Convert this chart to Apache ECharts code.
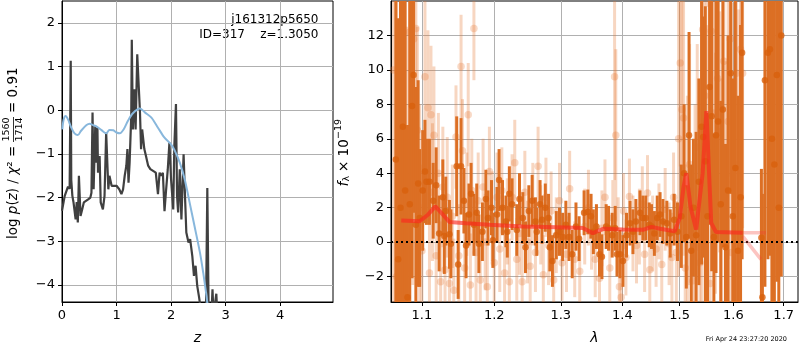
<!DOCTYPE html>
<html>
<head>
<meta charset="utf-8">
<script src="https://cdn.jsdelivr.net/npm/echarts@6/dist/echarts.min.js"></script>
<style>
html,body{margin:0;padding:0;background:#fff}
#main{width:800px;height:350px}
</style>
</head>
<body>
<div id="main"></div>
<script>
// left panel: log p(z) curve and the smooth prior
var zPz = [0.0,0.05,0.11,0.14,0.16,0.17,0.19,0.21,0.25,0.27,0.29,0.31,0.34,0.37,0.40,0.43,0.48,0.52,0.54,0.56,0.58,0.61,0.63,0.65,0.66,0.69,0.71,0.75,0.78,0.81,0.85,0.87,0.91,0.94,1.0,1.05,1.09,1.12,1.15,1.18,1.20,1.22,1.24,1.27,1.28,1.30,1.33,1.35,1.38,1.41,1.43,1.45,1.47,1.51,1.54,1.58,1.62,1.67,1.72,1.76,1.79,1.82,1.85,1.88,1.91,1.94,1.97,2.0,2.04,2.06,2.09,2.11,2.13,2.16,2.19,2.23,2.26,2.28,2.32,2.35,2.39,2.42,2.45,2.48,2.51,2.54,2.55,2.64,2.665,2.69,2.74,2.76,2.78,2.81,2.83,2.85];
var logPz = [-2.3,-1.96,-1.75,-1.8,1.13,-1.6,-1.96,-2.1,-2.5,-2.1,-2.57,-1.5,-2.42,-2.27,-2.11,-2.15,-2.04,-2.0,-1.89,-0.05,-1.81,-0.36,-1.2,-0.4,-1.43,-1.05,-2.11,-2.27,-1.96,-0.51,-1.81,-1.5,-1.73,-1.69,-1.73,-1.81,-1.92,-1.81,-1.5,-1.27,-0.89,-1.66,-1.2,-0.13,1.61,-0.44,0.48,-0.44,1.28,0.48,-0.05,-0.89,-0.44,-0.89,-1.05,-1.27,-1.35,-1.39,-1.43,-1.92,-1.43,-1.5,-1.43,-2.31,-1.81,-1.35,-0.74,-1.58,-2.27,-0.82,0.14,-1.96,-2.34,-1.35,-2.5,-1.01,-2.11,-2.8,-3.03,-2.95,-3.34,-3.79,-3.56,-4.02,-4.25,-4.5,-4.7,-4.7,-1.78,-4.7,-4.7,-4.1,-4.7,-4.7,-4.2,-4.7];
var zPrior = [0.006,0.03,0.067,0.11,0.17,0.23,0.29,0.35,0.45,0.51,0.57,0.63,0.72,0.81,0.87,0.94,1.0,1.06,1.13,1.21,1.30,1.43,1.52,1.64,1.76,1.88,2.0,2.07,2.16,2.25,2.34,2.43,2.53,2.59,2.65,2.67,2.70];
var logPrior = [-0.44,-0.21,-0.13,-0.21,-0.40,-0.53,-0.57,-0.47,-0.34,-0.31,-0.34,-0.37,-0.45,-0.53,-0.45,-0.46,-0.51,-0.53,-0.44,-0.24,-0.07,0.04,-0.05,-0.17,-0.40,-0.63,-0.78,-0.93,-1.2,-1.58,-2.11,-2.65,-3.26,-3.72,-4.25,-4.48,-4.8];

// right panel: spectrum points (dark = this grism, light = other grism)
var lamDark = [1.066,1.069,1.072,1.075,1.078,1.081,1.084,1.087,1.089,1.092,1.095,1.097,1.101,1.104,1.106,1.110,1.115,1.119,1.123,1.128,1.130,1.132,1.137,1.139,1.147,1.149,1.153,1.157,1.160,1.164,1.167,1.171,1.175,1.178,1.183,1.188,1.191,1.196,1.198,1.204,1.207,1.212,1.217,1.219,1.222,1.226,1.233,1.237,1.242,1.246,1.251,1.256,1.261,1.263,1.268,1.271,1.276,1.281,1.283,1.287,1.293,1.298,1.303,1.308,1.313,1.318,1.324,1.329,1.337,1.343,1.348,1.352,1.357,1.362,1.366,1.373,1.377,1.383,1.388,1.391,1.396,1.401,1.407,1.413,1.418,1.423,1.430,1.435,1.440,1.446,1.450,1.455,1.460,1.465,1.470,1.477,1.483,1.490,1.496,1.503,1.508,1.512,1.517,1.521,1.525,1.530,1.535,1.540,1.543,1.547,1.551,1.555,1.559,1.563,1.567,1.571,1.576,1.580,1.585,1.590,1.595,1.599,1.604,1.609,1.614,1.617,1.655,1.657,1.662,1.668,1.672,1.676,1.681,1.686,1.690,1.695];
var fluxDark = [4.8,-1.0,2.0,6.7,3.0,-3.2,2.2,7.9,9.7,1.0,3.4,1.4,3.0,4.1,3.5,3.5,2.4,3.3,0.5,2.6,0.35,1.8,0.45,-0.1,4.4,-1.3,4.4,2.4,-0.2,1.6,2.8,1.0,1.7,-0.1,0.6,2.5,1.4,2.0,0.1,1.6,3.6,2.0,1.2,0.6,2.8,2.2,0.7,2.5,1.4,-0.3,1.8,2.4,1.2,0.6,2.2,1.3,2.0,1.4,-0.3,-1.1,0.4,0.6,0.3,1.0,0.3,-0.7,0.9,0.2,1.7,1.75,1.5,0.6,0.9,-0.7,-0.85,0.9,0.8,0.4,0.8,-0.7,-0.7,-1.1,0.4,1.1,0.6,1.2,1.7,1.4,1.4,1.0,0.9,0.5,1.4,1.6,1.2,1.1,0.5,1.3,0.6,1.5,4.0,0.3,6.2,-0.5,2.0,0.4,3.5,6.7,6.1,4.7,1.5,9.0,7.3,0.3,6.2,7.0,2.2,7.7,-0.3,3.0,9.8,1.5,4.3,-0.5,2.6,11.0,0.25,-3.2,9.4,11.0,11.2,6.0,4.5,9.7,2.0,12.0];
var errDark = [14,14,14,12,14,10,12,10,8,8,6,4,3.5,3,2.5,2.5,2.2,2.2,2.2,2.2,2.2,2,2,2,2.9,2,2.8,1.9,1.9,1.8,1.8,1.8,1.7,1.7,1.7,1.7,1.6,1.6,1.6,1.6,1.8,1.6,1.5,1.5,1.6,1.5,1.5,1.5,1.5,1.5,1.5,1.5,1.4,1.4,1.4,1.4,1.4,1.4,1.4,1.5,1.4,1.4,1.4,1.4,1.4,1.4,1.4,1.3,1.3,1.3,1.3,1.3,1.3,1.3,1.3,1.3,1.3,1.3,1.3,1.3,1.4,1.5,1.3,1.3,1.3,1.3,1.3,1.3,1.3,1.3,1.3,1.3,1.3,1.3,1.3,1.3,1.4,1.5,1.7,3,4,3,6,5,4,6,6,8,7,9,6,8,9,6,8,7,6,8,6,9,7,8,10,9,10,12,4,6,12,12,12,12,12,12,14,14];

var lamLight = [1.063,1.067,1.072,1.076,1.080,1.084,1.088,1.089,1.092,1.094,1.097,1.100,1.104,1.108,1.110,1.112,1.114,1.116,1.119,1.122,1.125,1.128,1.131,1.134,1.137,1.141,1.143,1.146,1.150,1.153,1.155,1.158,1.161,1.163,1.166,1.168,1.171,1.174,1.177,1.180,1.184,1.187,1.190,1.193,1.197,1.200,1.204,1.208,1.211,1.215,1.219,1.222,1.226,1.230,1.233,1.237,1.241,1.245,1.249,1.253,1.257,1.261,1.265,1.269,1.273,1.277,1.281,1.285,1.289,1.293,1.298,1.302,1.309,1.314,1.322,1.330,1.338,1.344,1.349,1.355,1.362,1.366,1.371,1.379,1.384,1.387,1.389,1.393,1.395,1.398,1.402,1.406,1.412,1.418,1.424,1.429,1.434,1.438,1.443,1.447,1.452,1.458,1.463,1.468,1.474,1.481,1.486,1.489,1.494,1.498,1.501,1.504,1.507,1.510,1.514,1.518,1.524,1.528,1.532,1.537,1.540,1.542,1.546,1.550,1.554,1.556,1.558,1.562,1.566,1.570,1.574,1.578,1.582,1.586,1.590,1.594,1.596,1.598,1.602,1.606,1.610,1.614,1.618];
var fluxLight = [10.0,-2.0,5.0,3.0,-1.5,12.2,5.5,11.8,12.4,6.5,2.0,-0.5,9.6,7.8,-1.8,7.4,2.9,6.2,-0.8,4.0,-2.3,3.2,-1.6,2.6,-2.4,1.5,-2.8,6.1,-0.8,10.2,5.3,-1.5,2.2,7.4,-2.5,3.0,12.4,-0.6,2.4,-2.2,3.2,0.0,-2.6,4.1,1.5,-1.2,2.6,-0.4,3.0,-1.8,1.2,-2.3,2.6,4.6,-1.0,0.5,-2.3,2.9,0.0,-1.4,2.2,-0.6,4.4,1.0,-1.9,2.6,-0.2,1.8,-2.2,0.4,2.4,-1.2,-0.7,3.1,-1.0,-1.7,0.9,2.0,0.6,-1.0,-2.1,0.8,2.6,-1.5,1.4,9.6,6.2,0.4,-2.6,-3.2,1.8,-0.9,2.65,0.5,-0.2,0.9,2.2,-0.7,2.85,-1.6,0.5,-0.4,1.2,-1.3,1.9,-0.1,-0.9,2.6,-0.6,6.0,10.4,7.7,7.2,-1.5,2.5,4.5,-2.25,1.0,5.5,-1.2,3.0,12.35,8.5,5.6,13.85,-2.4,12.25,7.5,4.0,9.5,6.4,1.5,10.5,3.5,7.0,11.8,-0.6,6.9,0.5,9.8,4.5,11.2,9.8];
var errLight = [20,16,16,14,14,10,8,8,7,6,6,5,5,4.5,4,4,4,4,4,3.5,3.5,3.5,3.5,3.5,3,3,3,3,3,3,3,3,3,3,3,3,3,3,2.8,2.8,2.8,2.8,2.6,2.6,2.6,2.6,2.6,2.5,2.5,2.5,2.5,2.5,2.5,2.5,2.4,2.4,2.4,2.4,2.4,2.4,2.4,2.3,2.3,2.3,2.3,2.3,2.3,2.3,2.3,2.2,2.2,2.2,2.2,2.2,2.2,2.2,2.2,2.2,2.2,2.2,2.2,2.2,2.2,2.2,2.2,6,5,2.2,2.2,2.4,2.2,2.2,2.2,2.2,2.2,2.2,2.2,2.2,2.2,2.2,2.2,2.2,2.2,2.2,2.4,2.4,2.6,2.6,3,8,6,7,8,6,6,7,6,7,6,6,7,8,8,7,8,6,7,7,7,7,7,8,7,7,8,8,8,7,8,8,9,9,9,10];

// best-fit model
var lamModel = [1.073,1.097,1.108,1.118,1.126,1.137,1.160,1.193,1.242,1.293,1.335,1.351,1.368,1.401,1.435,1.450,1.465,1.491,1.500,1.507,1.512,1.520,1.530,1.542,1.549,1.558,1.567,1.618];
var fluxModel = [1.25,1.21,1.59,2.07,1.69,1.17,1.09,1.01,0.90,0.86,0.82,0.52,0.77,0.73,0.71,0.88,0.77,0.63,1.40,3.2,4.0,2.0,0.73,4.0,7.6,1.11,0.58,0.54];
var lamModelB = [1.618,1.664];
var fluxModelB = [0.54,0.54];
var lamModelC = [1.618,1.654];
var fluxModelC = [0.35,-1.0];

var zTicks = [0,1,2,3,4];
var pzTicks = [-4,-3,-2,-1,0,1,2];
var lamTicks = [1.1,1.2,1.3,1.4,1.5,1.6,1.7];
var fluxTicks = [-2,0,2,4,6,8,10,12];

var FONT = 'DejaVu Sans';
var chart = echarts.init(document.getElementById('main'));

function minus(v){
    return String(Math.round(v*1000)/1000).replace('-', '\u2212');
}
function pairs(a, b){
    return a.map(function(x, i){ return [x, b[i]]; });
}
//波长用对数坐标
function lpairs(a, b, c){
    return a.map(function(x, i){
        var r = [Math.log10(x), b[i]];
        if (c) r.push(c[i]);
        return r;
    });
}
function errBars(lam, flux, err, color, z){
    return {
        type: 'custom', xAxisIndex: 1, yAxisIndex: 1, clip: true, silent: true, z: z,
        data: lpairs(lam, flux, err),
        encode: {x: 0, y: 1},
        renderItem: function(params, api){
            var x = api.value(0), y = api.value(1), e = api.value(2);
            var p1 = api.coord([x, y + e]), p2 = api.coord([x, y - e]);
            return {type: 'line', shape: {x1: p1[0], y1: p1[1], x2: p2[0], y2: p2[1]},
                    style: {stroke: color, lineWidth: 3}};
        }
    };
}
function axisX(idx, min, max, ticks, fmt, name){
    return {
        gridIndex: idx, type: 'value', min: min, max: max,
        axisLine: {show: true, onZero: false, lineStyle: {color: '#000', width: 1}},
        axisTick: {show: true, length: 4, customValues: ticks, lineStyle: {color: '#000'}},
        axisLabel: {color: '#000', fontFamily: FONT, fontSize: 13, margin: 7, customValues: ticks, formatter: fmt},
        splitLine: {show: true, lineStyle: {color: '#b0b0b0', width: 1}},
        name: name, nameLocation: 'middle', nameGap: 29,
        nameTextStyle: {color: '#000', fontFamily: FONT, fontSize: 14, fontStyle: 'italic'}
    };
}
function axisY(idx, min, max, ticks){
    return {
        gridIndex: idx, type: 'value', min: min, max: max,
        axisLine: {show: true, onZero: false, lineStyle: {color: '#000', width: 1}},
        axisTick: {show: true, length: 4, customValues: ticks, lineStyle: {color: '#000'}},
        axisLabel: {color: '#000', fontFamily: FONT, fontSize: 13, margin: 7, customValues: ticks, formatter: minus},
        splitLine: {show: true, lineStyle: {color: '#b0b0b0', width: 1}}
    };
}
var txt = function(s, x, y, size, extra){
    var st = {text: s, fontFamily: FONT, fontSize: size, fill: '#000', align: 'left', verticalAlign: 'middle'};
    for (var k in extra) st[k] = extra[k];
    return {type: 'text', x: x, y: y, style: st, silent: true};
};

var option = {
    animation: false,
    backgroundColor: '#fff',
    grid: [
        {left: 62, top: 1, width: 271, height: 303, show: true, borderColor: '#000', borderWidth: 1, containLabel: false},
        {left: 391, top: 1, width: 407, height: 303, show: true, borderColor: '#000', borderWidth: 1, containLabel: false}
    ],
    xAxis: [
        axisX(0, 0, 4.97, zTicks, function(v){ return String(v); }, 'z'),
        axisX(1, Math.log10(1.0598), Math.log10(1.7295), lamTicks.map(Math.log10),
              function(v){ return Math.pow(10, v).toFixed(1); }, 'λ')
    ],
    yAxis: [
        axisY(0, -4.39, 2.5, pzTicks),
        axisY(1, -3.48, 14.0, fluxTicks)
    ],
    series: [
        {type: 'line', xAxisIndex: 0, yAxisIndex: 0, data: pairs(zPz, logPz), showSymbol: false, symbol: 'none',
         lineStyle: {color: '#404040', width: 2.2}, z: 2},
        {type: 'line', xAxisIndex: 0, yAxisIndex: 0, data: pairs(zPrior, logPrior), showSymbol: false, symbol: 'none',
         smooth: 0.3, lineStyle: {color: '#88b7dc', width: 2}, z: 3},
        errBars(lamLight, fluxLight, errLight, 'rgba(230,120,50,0.3)', 2),
        {type: 'scatter', xAxisIndex: 1, yAxisIndex: 1, data: lpairs(lamLight, fluxLight), symbolSize: 7.5,
         itemStyle: {color: 'rgba(230,120,50,0.35)'}, z: 3, silent: true},
        errBars(lamDark, fluxDark, errDark, '#dc6f24', 4),
        {type: 'scatter', xAxisIndex: 1, yAxisIndex: 1, data: lpairs(lamDark, fluxDark), symbolSize: 6.5,
         itemStyle: {color: '#d8600c'}, z: 5, silent: true},
        {type: 'line', xAxisIndex: 1, yAxisIndex: 1, data: lpairs(lamModelB, fluxModelB), showSymbol: false, symbol: 'none',
         lineStyle: {color: 'rgba(245,60,50,0.3)', width: 3.5}, z: 6},
        {type: 'line', xAxisIndex: 1, yAxisIndex: 1, data: lpairs(lamModelC, fluxModelC), showSymbol: false, symbol: 'none',
         lineStyle: {color: 'rgba(245,60,50,0.3)', width: 3.5}, z: 6},
        {type: 'line', xAxisIndex: 1, yAxisIndex: 1, data: lpairs(lamModel, fluxModel), showSymbol: false, symbol: 'none',
         lineStyle: {color: 'rgba(250,40,30,0.65)', width: 4}, z: 7,
         markLine: {silent: true, symbol: ['none', 'none'], label: {show: false},
                    lineStyle: {color: '#000', type: [2, 3], width: 2}, data: [{yAxis: 0}]}}
    ],
    graphic: [
        txt('j161312p5650', 318.5, 20, 12, {align: 'right'}),
        txt('ID=317    z=1.3050', 318.5, 34.5, 12, {align: 'right'}),
        {type: 'group', x: 13, y: 153, rotation: Math.PI / 2, silent: true, children: [
            txt('log {i|p}({i|z}) / {i|χ}² =', -86, 0, 13.5, {rich: {i: {fontStyle: 'italic', fontFamily: FONT, fontSize: 13.5, fill: '#000'}}}),
            txt('1560', 23.5, -1, 9.5, {align: 'center', verticalAlign: 'bottom'}),
            {type: 'line', shape: {x1: 11, y1: 0.5, x2: 36, y2: 0.5}, style: {stroke: '#000', lineWidth: 0.8}},
            txt('1714', 23.5, 2, 9.5, {align: 'center', verticalAlign: 'top'}),
            txt('= 0.91', 40, 0, 13.5)
        ]},
        {type: 'group', x: 344, y: 153, rotation: Math.PI / 2, silent: true, children: [
            txt('f', -33.5, 0, 13.5, {fontStyle: 'italic'}),
            txt('λ', -28.5, 3, 9.5),
            txt('× 10', -19, 0, 13.5),
            txt('\u221219', 14, -5, 9.5)
        ]},
        txt('Fri Apr 24 23:27:20 2020', 787, 339.5, 6.5, {align: 'right'})
    ]
};
chart.setOption(option);
</script>
</body>
</html>
